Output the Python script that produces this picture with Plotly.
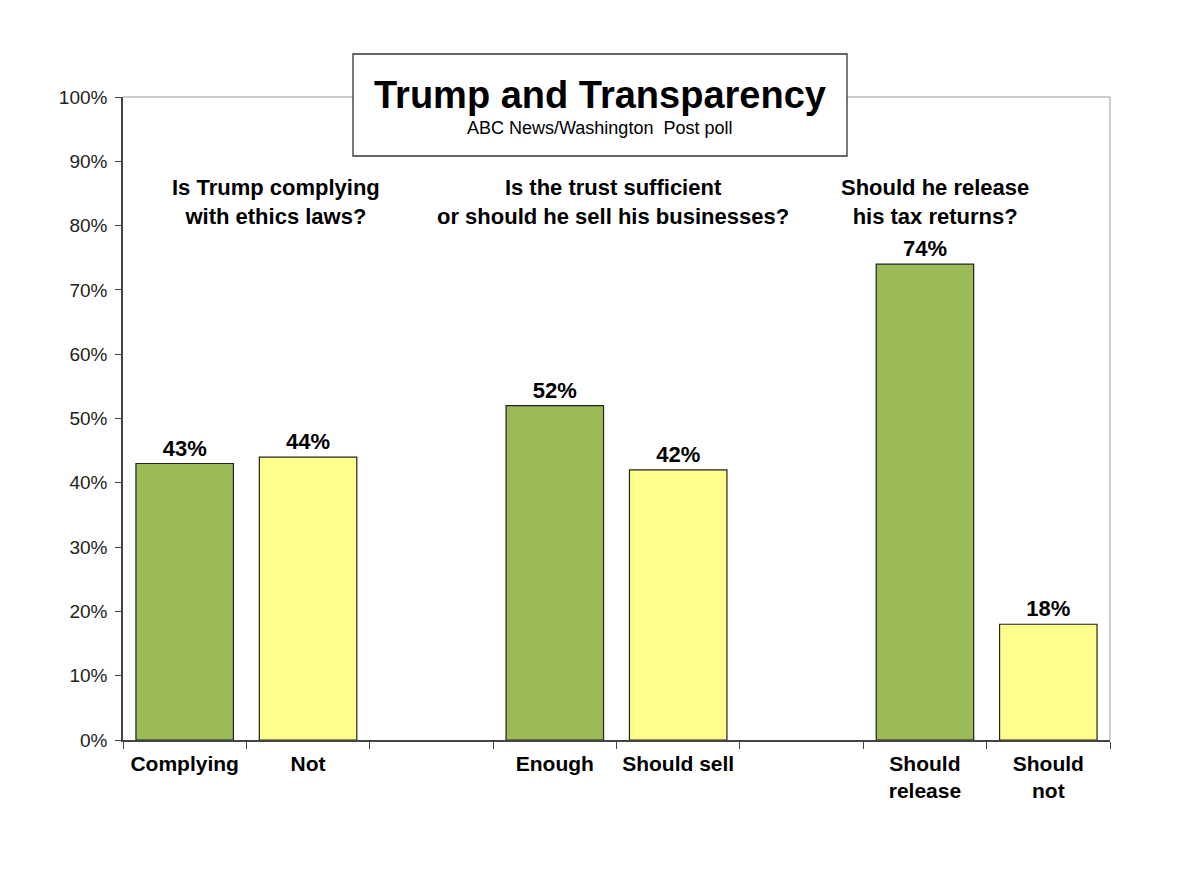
import plotly.graph_objects as go

categories = ["Complying", "Not", " ", "Enough", "Should sell", "  ", "Should release", "Should not"]
tick_labels = ["Complying", "Not", "", "Enough", "Should sell", "", "Should<br>release", "Should<br>not"]
values = [43, 44, None, 52, 42, None, 74, 18]
value_labels = ["43%", "44%", "", "52%", "42%", "", "74%", "18%"]
bar_colors = ["#9BBB59", "#FFFF8C", "#FFFFFF", "#9BBB59", "#FFFF8C", "#FFFFFF", "#9BBB59", "#FFFF8C"]
y_ticks = [0, 10, 20, 30, 40, 50, 60, 70, 80, 90, 100]
y_tick_labels = [f"{v}%" for v in y_ticks]
questions = [
    ("Is Trump complying<br>with ethics laws?", 0.74),
    ("Is the trust sufficient<br>or should he sell his businesses?", 3.47),
    ("Should he release<br>his tax returns?", 6.08),
]

FONT = "Liberation Sans, Arial, sans-serif"

# page offset (default body margin) compensation
OFF = 8
L, R, T, B = 123 - OFF, 1200 + OFF - 1110, 97 - OFF, 883 + OFF - 740
PW, PH = 1200 - L - R, 883 - T - B


def px(xpix):
    return (xpix - 123) / PW


def py(ypix):
    return (740 - ypix) / PH


fig = go.Figure()
fig.add_trace(go.Bar(
    x=categories,
    y=values,
    marker=dict(color=bar_colors, line=dict(color="#222222", width=1.2)),
    text=value_labels,
    textposition="outside",
    constraintext="none",
    textfont=dict(family=FONT, size=22, color="#000000", weight="bold"),
    cliponaxis=False,
    width=0.79,
    hoverinfo="skip",
))

for txt, xpos in questions:
    fig.add_annotation(
        x=xpos, y=83.6, xref="x", yref="y", text=txt, showarrow=False,
        font=dict(family=FONT, size=22, color="#000000", weight="bold"),
        align="center", yanchor="middle",
    )

# plot-area top and right borders
fig.add_shape(type="line", xref="paper", yref="paper", x0=0, x1=1, y0=1, y1=1,
              line=dict(color="#999999", width=1))
fig.add_shape(type="line", xref="paper", yref="paper", x0=1, x1=1, y0=0, y1=1,
              line=dict(color="#999999", width=1))

# title box
fig.add_shape(type="rect", xref="paper", yref="paper",
              x0=px(353), x1=px(847), y0=py(156), y1=py(54),
              line=dict(color="#333333", width=1.3), fillcolor="#FFFFFF", layer="above")
fig.add_annotation(x=px(600), y=py(95), xref="paper", yref="paper",
                   text="Trump and Transparency", showarrow=False,
                   font=dict(family=FONT, size=38, color="#000000", weight="bold"),
                   yanchor="middle")
fig.add_annotation(x=px(599), y=py(128), xref="paper", yref="paper",
                   text="ABC News/Washington  Post poll", showarrow=False,
                   font=dict(family=FONT, size=18, color="#000000"),
                   yanchor="middle")

fig.update_layout(
    width=1200, height=883,
    margin=dict(l=L, r=R, t=T, b=B),
    paper_bgcolor="#FFFFFF", plot_bgcolor="#FFFFFF",
    showlegend=False,
    xaxis=dict(
        type="category", categoryorder="array", categoryarray=categories,
        tickvals=categories, ticktext=tick_labels,
        tickson="boundaries", ticks="outside", ticklen=7, tickcolor="#444444",
        showline=True, linecolor="#444444", linewidth=1.5,
        showgrid=False, zeroline=False,
        tickangle=0,
        tickfont=dict(family=FONT, size=21, color="#000000", weight="bold"),
        ticklabelstandoff=4,
        range=[-0.5, 7.5],
    ),
    yaxis=dict(
        range=[0, 100], tickvals=y_ticks, ticktext=y_tick_labels,
        ticks="outside", ticklen=6, tickcolor="#444444",
        showline=True, linecolor="#444444", linewidth=1.5,
        showgrid=False, zeroline=False,
        tickfont=dict(family=FONT, size=19, color="#222222"),
        ticklabelstandoff=4,
    ),
)

fig.write_html("out.html")
